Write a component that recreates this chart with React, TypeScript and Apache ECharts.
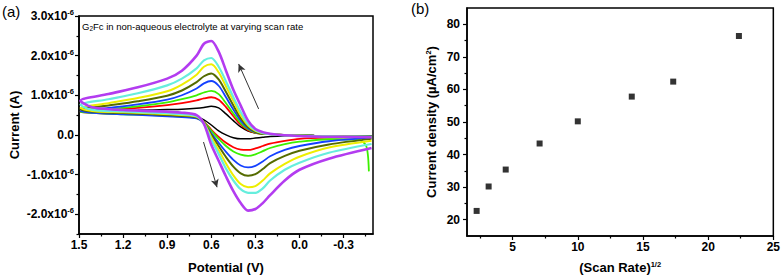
import React, { useEffect, useRef } from 'react';
import * as echarts from 'echarts';

const FONT = '"Liberation Sans", Arial, Helvetica, sans-serif';

// ---------- Panel (a): cyclic voltammograms, [potential V, current µA] ----------
const blackUpper = [[-0.49,-0.04],[-0.3,-0.03],[-0.1,-0.02],[0.1,0.0],[0.2,0.02],[0.25,0.03],[0.3,0.05],[0.35,0.1],[0.4,0.2],[0.45,0.36],[0.5,0.53],[0.55,0.68],[0.6,0.72],[0.65,0.69],[0.7,0.67],[0.8,0.65],[0.9,0.64],[1.1,0.62],[1.3,0.61],[1.49,0.6]];
const blackLower = [[1.49,0.6],[1.44,0.58],[1.38,0.57],[1.2,0.55],[1.0,0.52],[0.8,0.48],[0.7,0.45],[0.65,0.38],[0.6,0.25],[0.55,0.1],[0.5,0.0],[0.45,-0.07],[0.4,-0.1],[0.35,-0.1],[0.3,-0.08],[0.25,-0.06],[0.2,-0.04],[0.1,-0.03],[0.0,-0.03],[-0.2,-0.02],[-0.49,-0.02]];

const redUpper = [[-0.49,-0.04],[-0.3,-0.03],[-0.1,-0.02],[0.1,0.0],[0.2,0.02],[0.25,0.03],[0.3,0.05],[0.35,0.12],[0.4,0.26],[0.45,0.47],[0.5,0.7],[0.55,0.89],[0.6,0.95],[0.65,0.92],[0.7,0.87],[0.8,0.8],[0.9,0.75],[1.1,0.68],[1.3,0.63],[1.49,0.58]];
const redLower = [[1.49,0.58],[1.44,0.56],[1.38,0.55],[1.2,0.53],[1.0,0.51],[0.8,0.47],[0.7,0.44],[0.65,0.33],[0.6,0.13],[0.55,-0.05],[0.5,-0.2],[0.45,-0.31],[0.4,-0.37],[0.35,-0.38],[0.3,-0.34],[0.25,-0.28],[0.2,-0.22],[0.1,-0.15],[0.0,-0.1],[-0.2,-0.07],[-0.49,-0.05]];

const greenUpper = [[-0.49,-0.04],[-0.3,-0.03],[-0.1,-0.02],[0.1,0.0],[0.2,0.02],[0.25,0.03],[0.3,0.06],[0.35,0.14],[0.4,0.3],[0.45,0.54],[0.5,0.8],[0.55,1.03],[0.6,1.11],[0.65,1.07],[0.7,1.0],[0.8,0.9],[0.9,0.82],[1.1,0.72],[1.3,0.65],[1.49,0.58]];
const greenLower = [[1.49,0.58],[1.44,0.56],[1.38,0.55],[1.2,0.52],[1.0,0.5],[0.8,0.46],[0.7,0.43],[0.65,0.32],[0.6,0.1],[0.55,-0.1],[0.5,-0.28],[0.45,-0.42],[0.4,-0.5],[0.35,-0.53],[0.3,-0.49],[0.25,-0.41],[0.2,-0.33],[0.1,-0.23],[0.0,-0.17],[-0.2,-0.11],[-0.4,-0.12],[-0.45,-0.25],[-0.465,-0.5],[-0.472,-0.92]];

const blueUpper = [[-0.49,-0.04],[-0.3,-0.03],[-0.1,-0.02],[0.1,0.0],[0.2,0.02],[0.25,0.03],[0.3,0.07],[0.35,0.17],[0.4,0.36],[0.45,0.64],[0.5,0.95],[0.55,1.24],[0.6,1.36],[0.65,1.3],[0.7,1.17],[0.8,1.0],[0.9,0.89],[1.1,0.77],[1.3,0.68],[1.49,0.6]];
const blueLower = [[1.49,0.6],[1.44,0.57],[1.38,0.55],[1.2,0.52],[1.0,0.49],[0.8,0.45],[0.7,0.42],[0.65,0.3],[0.6,0.04],[0.55,-0.2],[0.5,-0.43],[0.45,-0.63],[0.4,-0.77],[0.35,-0.82],[0.3,-0.78],[0.25,-0.67],[0.2,-0.54],[0.1,-0.38],[0.0,-0.28],[-0.2,-0.16],[-0.49,-0.07]];

const oliveUpper = [[-0.49,-0.04],[-0.3,-0.03],[-0.1,-0.02],[0.1,0.0],[0.2,0.02],[0.25,0.03],[0.3,0.08],[0.35,0.2],[0.4,0.42],[0.45,0.74],[0.5,1.08],[0.55,1.4],[0.6,1.55],[0.65,1.48],[0.7,1.33],[0.8,1.12],[0.9,0.99],[1.1,0.85],[1.3,0.74],[1.49,0.64]];
const oliveLower = [[1.49,0.64],[1.44,0.6],[1.38,0.58],[1.2,0.55],[1.0,0.52],[0.8,0.48],[0.7,0.44],[0.65,0.3],[0.6,0.0],[0.55,-0.28],[0.5,-0.56],[0.45,-0.8],[0.4,-0.97],[0.35,-1.03],[0.3,-0.99],[0.25,-0.86],[0.2,-0.71],[0.1,-0.53],[0.0,-0.4],[-0.2,-0.24],[-0.49,-0.1]];

const yellowUpper = [[-0.49,-0.05],[-0.3,-0.04],[-0.1,-0.03],[0.1,-0.01],[0.2,0.02],[0.25,0.04],[0.3,0.1],[0.35,0.24],[0.4,0.5],[0.45,0.86],[0.5,1.22],[0.55,1.58],[0.6,1.78],[0.65,1.72],[0.7,1.52],[0.8,1.27],[0.9,1.1],[1.1,0.93],[1.3,0.8],[1.49,0.68]];
const yellowLower = [[1.49,0.68],[1.44,0.62],[1.38,0.59],[1.2,0.57],[1.0,0.54],[0.8,0.5],[0.7,0.46],[0.65,0.3],[0.6,-0.06],[0.55,-0.38],[0.5,-0.72],[0.45,-1.02],[0.4,-1.24],[0.35,-1.32],[0.3,-1.29],[0.25,-1.15],[0.2,-0.97],[0.1,-0.73],[0.0,-0.55],[-0.2,-0.32],[-0.49,-0.15]];

const cyanUpper = [[-0.49,-0.05],[-0.3,-0.04],[-0.1,-0.03],[0.1,-0.01],[0.2,0.02],[0.25,0.05],[0.3,0.12],[0.35,0.28],[0.4,0.58],[0.45,0.95],[0.5,1.35],[0.55,1.72],[0.6,1.94],[0.65,1.88],[0.7,1.68],[0.8,1.42],[0.9,1.25],[1.1,1.05],[1.3,0.9],[1.49,0.76]];
const cyanLower = [[1.49,0.76],[1.44,0.66],[1.38,0.62],[1.2,0.59],[1.0,0.56],[0.8,0.52],[0.7,0.47],[0.65,0.28],[0.6,-0.12],[0.55,-0.48],[0.5,-0.85],[0.45,-1.15],[0.4,-1.37],[0.35,-1.46],[0.3,-1.46],[0.25,-1.35],[0.2,-1.15],[0.1,-0.88],[0.0,-0.7],[-0.2,-0.45],[-0.49,-0.23]];

const purpleUpper = [[-0.49,-0.06],[-0.3,-0.05],[-0.1,-0.04],[0.1,-0.01],[0.2,0.03],[0.25,0.07],[0.3,0.15],[0.35,0.36],[0.4,0.74],[0.45,1.14],[0.5,1.62],[0.55,2.1],[0.6,2.37],[0.65,2.3],[0.7,2.0],[0.8,1.62],[0.9,1.42],[1.1,1.2],[1.3,1.03],[1.49,0.86]];
const purpleLower = [[1.49,0.86],[1.44,0.74],[1.38,0.68],[1.2,0.63],[1.0,0.6],[0.8,0.56],[0.7,0.5],[0.65,0.28],[0.6,-0.25],[0.55,-0.65],[0.5,-1.05],[0.45,-1.42],[0.4,-1.72],[0.35,-1.91],[0.3,-1.87],[0.25,-1.72],[0.2,-1.52],[0.1,-1.15],[0.0,-0.88],[-0.2,-0.6],[-0.49,-0.33]];

const cvCurves = [
  { name: '5 mV/s', color: '#000000', width: 1.5, upper: blackUpper, lower: blackLower },
  { name: '10 mV/s', color: '#ff0000', width: 1.8, upper: redUpper, lower: redLower },
  { name: '20 mV/s', color: '#3cf000', width: 1.8, upper: greenUpper, lower: greenLower },
  { name: '50 mV/s', color: '#1440ff', width: 1.8, upper: blueUpper, lower: blueLower },
  { name: '100 mV/s', color: '#556b00', width: 2, upper: oliveUpper, lower: oliveLower },
  { name: '200 mV/s', color: '#eeee00', width: 2, upper: yellowUpper, lower: yellowLower },
  { name: '300 mV/s', color: '#66eedd', width: 2.2, upper: cyanUpper, lower: cyanLower },
  { name: '500 mV/s', color: '#b33cf0', width: 2.6, upper: purpleUpper, lower: purpleLower },
];

const potentialTicks = [1.5, 1.2, 0.9, 0.6, 0.3, 0.0, -0.3];
const potentialMinorTicks = [1.35, 1.05, 0.75, 0.45, 0.15, -0.15, -0.45];
const currentTicks = [-2, -1, 0, 1, 2, 3];
const currentMinorTicks = [-2.5, -1.5, -0.5, 0.5, 1.5, 2.5];

// arrows (annotation), in data coordinates
const arrowUp = [[0.278, 0.655], [0.414, 1.79]];
const arrowDown = [[0.653, -0.18], [0.561, -1.32]];

// ---------- Panel (b): current density vs sqrt(scan rate) ----------
const sqrtScanRate = [2.24, 3.16, 4.47, 7.07, 10.0, 14.14, 17.32, 22.36];
const currentDensity = [22.7, 30.2, 35.4, 43.4, 50.2, 57.8, 62.4, 76.4];
const rateTicks = [5, 10, 15, 20, 25];
const rateMinorTicks = [2.5, 7.5, 12.5, 17.5, 22.5];
const densityTicks = [20, 30, 40, 50, 60, 70, 80];
const densityMinorTicks = [25, 35, 45, 55, 65, 75];

const labelStyle = { fontFamily: FONT, fontWeight: 'bold' as const, fontSize: 12, color: '#000' };
const supStyle = { fontFamily: FONT, fontWeight: 'bold' as const, fontSize: 7.5, color: '#000', verticalAlign: 'bottom' as const, padding: [0, 0, 7, 0] };

function majorAxis(extra: any) {
  return {
    type: 'value',
    axisLine: { show: true, onZero: false, lineStyle: { color: '#000', width: 1.5 } },
    axisTick: { show: true, length: 4, lineStyle: { color: '#000', width: 1.2 } },
    splitLine: { show: false },
    nameLocation: 'middle',
    nameTextStyle: { fontFamily: FONT, fontWeight: 'bold', fontSize: 13, color: '#000' },
    ...extra,
  };
}
function minorAxis(extra: any) {
  return {
    type: 'value',
    axisLine: { show: false, onZero: false },
    axisLabel: { show: false },
    splitLine: { show: false },
    ...extra,
  };
}

export default function App() {
  const ref = useRef<HTMLDivElement>(null);
  useEffect(() => {
    const chart = echarts.init(ref.current!, null, { renderer: 'svg' });
    const cvSeries = cvCurves.map((c, i) => ({
      type: 'line',
      name: c.name,
      xAxisIndex: 0,
      yAxisIndex: 0,
      data: [...c.upper, ...c.lower],
      showSymbol: false,
      symbol: 'none',
      smooth: 0.3,
      lineStyle: { color: c.color, width: c.width },
      z: 2 + i,
      markLine: i === 0 ? {
        silent: true,
        symbol: ['none', 'arrow'],
        symbolSize: [6, 8],
        label: { show: false },
        lineStyle: { color: '#333', width: 1, type: 'solid' },
        data: [
          [{ coord: arrowUp[0] }, { coord: arrowUp[1] }],
          [{ coord: arrowDown[0] }, { coord: arrowDown[1] }],
        ],
      } : undefined,
    }));
    const option: any = {
      animation: false,
      backgroundColor: '#fff',
      grid: [
        { left: 79, top: 16, width: 294, height: 220, show: true, borderColor: '#000', borderWidth: 1.5, backgroundColor: 'transparent' },
        { left: 467, top: 8, width: 308, height: 228, show: true, borderColor: '#000', borderWidth: 1.5, backgroundColor: 'transparent' },
      ],
      xAxis: [
        majorAxis({
          gridIndex: 0, position: 'bottom', min: -0.5, max: 1.5, inverse: true,
          axisTick: { show: true, length: 4, customValues: potentialTicks, lineStyle: { color: '#000', width: 1.2 } },
          axisLabel: { customValues: potentialTicks, margin: 5, formatter: (v: number) => v.toFixed(1), ...labelStyle },
          name: 'Potential (V)', nameGap: 27,
        }),
        minorAxis({
          gridIndex: 0, position: 'bottom', min: -0.5, max: 1.5, inverse: true,
          axisTick: { show: true, length: 2.5, customValues: potentialMinorTicks, lineStyle: { color: '#000', width: 1.2 } },
        }),
        majorAxis({
          gridIndex: 1, position: 'bottom', min: 1.5, max: 25,
          axisTick: { show: true, length: 4, customValues: rateTicks, lineStyle: { color: '#000', width: 1.2 } },
          axisLabel: { customValues: rateTicks, margin: 5, formatter: (v: number) => String(v), ...labelStyle },
          name: '{a|(Scan Rate)}{s|1/2}', nameGap: 24,
          nameTextStyle: { rich: { a: { ...labelStyle, fontSize: 13 }, s: { ...supStyle } } },
        }),
        minorAxis({
          gridIndex: 1, position: 'bottom', min: 1.5, max: 25,
          axisTick: { show: true, length: 2.5, customValues: rateMinorTicks, lineStyle: { color: '#000', width: 1.2 } },
        }),
      ],
      yAxis: [
        majorAxis({
          gridIndex: 0, position: 'left', min: -2.5, max: 3.0,
          axisTick: { show: true, length: 4, customValues: currentTicks, lineStyle: { color: '#000', width: 1.2 } },
          axisLabel: {
            customValues: currentTicks, margin: 5,
            formatter: (v: number) => (v === 0 ? '{a|0.0}' : `{a|${v.toFixed(1)}x10}{s|-6}`),
            rich: { a: { ...labelStyle }, s: { ...supStyle } },
          },
          name: 'Current (A)', nameGap: 58,
        }),
        minorAxis({
          gridIndex: 0, position: 'left', min: -2.5, max: 3.0,
          axisTick: { show: true, length: 2.5, customValues: currentMinorTicks, lineStyle: { color: '#000', width: 1.2 } },
        }),
        majorAxis({
          gridIndex: 1, position: 'left', min: 15, max: 85,
          axisTick: { show: true, length: 4, customValues: densityTicks, lineStyle: { color: '#000', width: 1.2 } },
          axisLabel: { customValues: densityTicks, margin: 7, formatter: (v: number) => String(v), ...labelStyle },
          name: '{a|Current density (µA/cm}{s|2}{a|)}', nameGap: 28,
          nameTextStyle: { rich: { a: { ...labelStyle, fontSize: 13 }, s: { ...supStyle } } },
        }),
        minorAxis({
          gridIndex: 1, position: 'left', min: 15, max: 85,
          axisTick: { show: true, length: 2.5, customValues: densityMinorTicks, lineStyle: { color: '#000', width: 1.2 } },
        }),
      ],
      series: [
        ...cvSeries,
        {
          type: 'scatter',
          name: 'Current density',
          xAxisIndex: 2,
          yAxisIndex: 2,
          symbol: 'rect',
          symbolSize: 6,
          itemStyle: { color: '#000' },
          data: sqrtScanRate.map((x, i) => [x, currentDensity[i]]),
        },
      ],
      graphic: [
        { type: 'text', left: 2, top: 4, style: { text: '(a)', fontFamily: FONT, fontSize: 15, fill: '#000' } },
        { type: 'text', left: 411, top: 1, style: { text: '(b)', fontFamily: FONT, fontSize: 15, fill: '#000' } },
        {
          type: 'text', left: 82, top: 21,
          style: {
            text: '{n|G}{b|2}{n|Fc in non-aqueous electrolyte at varying scan rate}',
            rich: {
              n: { fontFamily: FONT, fontSize: 9.5, fill: '#000' },
              b: { fontFamily: FONT, fontSize: 6.5, fill: '#000', verticalAlign: 'top', padding: [5, 0, 0, 0] },
            },
          },
        },
      ],
    };
    chart.setOption(option);
    return () => chart.dispose();
  }, []);
  return <div ref={ref} style={{ position: 'fixed', left: 0, top: 0, width: 783, height: 279, background: '#fff' }} />;
}
